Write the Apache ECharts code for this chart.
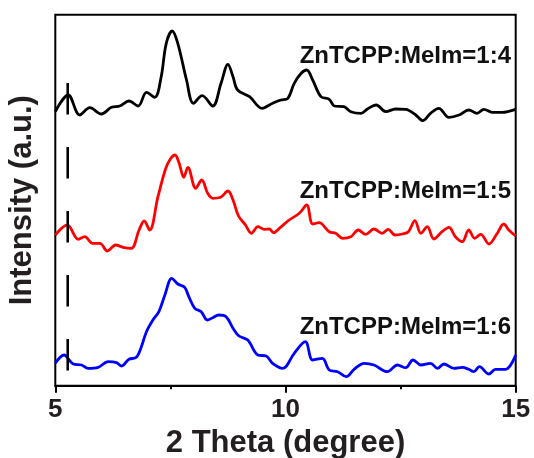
<!DOCTYPE html>
<html>
<head>
<meta charset="utf-8">
<script src="https://cdn.jsdelivr.net/npm/echarts@6/dist/echarts.min.js"></script>
<style>html,body{margin:0;padding:0;background:#fff}#c{width:534px;height:458px}</style>
</head>
<body>
<div id="c"></div>
<script>
// 2 Theta (degree) values and offset intensities (a.u.)
const blackX = [5.00,5.28,5.53,5.75,6.00,6.22,6.40,6.60,6.80,6.98,7.16,7.30,7.41,7.54,7.66,7.85,8.00,8.19,8.42,8.60,8.75,8.86,8.96,9.22,9.49,9.72,9.90,10.05,10.19,10.34,10.46,10.59,10.77,10.95,11.06,11.27,11.42,11.64,11.78,11.97,12.18,12.39,12.61,12.83,12.98,13.15,13.33,13.55,13.77,13.98,14.16,14.31,14.49,14.70,15.00];
const blackY = [274.0,290.7,270.7,278.0,271.7,278.4,279.7,284.7,279.7,293.4,288.4,309.0,342.4,354.7,342.4,305.7,282.4,290.0,279.7,302.4,321.4,309.0,295.7,289.0,277.4,282.4,285.7,287.4,302.4,312.4,315.7,305.7,289.0,286.4,279.7,279.0,274.0,272.4,276.7,280.7,274.0,276.7,276.4,270.7,265.0,272.4,277.4,268.4,270.7,275.7,272.4,276.4,273.4,273.4,276.4];

const redX = [5.00,5.26,5.50,5.64,5.81,5.97,6.13,6.31,6.47,6.65,6.82,6.93,7.05,7.23,7.40,7.51,7.60,7.69,7.79,7.88,8.05,8.18,8.31,8.42,8.59,8.75,8.86,8.98,9.13,9.26,9.40,9.54,9.65,9.74,9.89,10.08,10.30,10.46,10.59,10.73,10.95,11.09,11.24,11.42,11.58,11.74,11.92,12.10,12.23,12.38,12.54,12.67,12.81,12.94,13.08,13.22,13.40,13.55,13.69,13.84,13.98,14.11,14.24,14.42,14.59,14.74,14.85,15.00];
const redY = [150.7,160.7,146.4,149.0,142.4,142.4,134.7,140.7,138.4,137.4,155.7,164.7,155.7,189.0,217.4,227.4,230.7,222.4,208.4,218.4,197.4,205.7,192.4,187.4,188.4,194.7,185.7,169.7,160.7,152.4,159.0,156.4,156.7,153.0,158.4,165.7,172.4,180.7,161.7,163.0,154.0,152.4,147.4,149.0,155.7,151.4,156.7,152.4,156.4,150.7,151.7,154.0,165.0,152.4,159.0,146.7,154.0,158.4,149.0,144.0,155.7,147.4,151.4,141.7,151.7,161.7,155.7,149.7];

const blueX = [5.00,5.19,5.39,5.57,5.71,5.93,6.15,6.33,6.44,6.60,6.76,6.87,6.98,7.12,7.25,7.38,7.53,7.66,7.81,7.90,8.03,8.17,8.30,8.42,8.55,8.71,8.86,8.99,9.18,9.40,9.58,9.72,9.94,10.19,10.43,10.59,10.80,10.95,11.13,11.32,11.49,11.71,11.92,12.21,12.43,12.61,12.77,12.94,13.15,13.30,13.44,13.66,13.84,13.98,14.09,14.21,14.42,14.56,14.78,15.00];
const blueY = [22.4,30.7,21.7,20.7,17.4,18.4,24.0,23.0,19.7,26.4,28.4,39.0,54.0,65.7,74.0,90.7,107.4,101.7,98.4,89.0,77.4,74.0,65.7,68.0,70.7,69.0,57.4,49.7,45.7,30.7,29.7,22.4,17.4,32.4,44.0,25.7,27.4,15.7,14.0,9.0,16.4,22.4,20.7,14.0,20.7,18.0,25.7,20.7,22.4,17.4,21.7,17.4,18.4,16.4,14.0,19.0,11.7,16.4,16.4,30.7];

const markerX = [5.27, 5.27];
const markerY = [302.7, 14.7];

const xTicks = [5, 10, 15];
const sampleLabels = ['ZnTCPP:MeIm=1:4', 'ZnTCPP:MeIm=1:5', 'ZnTCPP:MeIm=1:6'];

const zip = (xs, ys) => xs.map((x, i) => [x, ys[i]]);

const chart = echarts.init(document.getElementById('c'));
const FONT = '"Liberation Sans", Arial, sans-serif';
const TXT = '#231f20';

function curve(name, xs, ys, color) {
  return {
    name, type: 'line', data: zip(xs, ys), showSymbol: false, smooth: 0.35,
    lineStyle: { color, width: 2.8 }, silent: true, z: 3
  };
}

chart.setOption({
  animation: false,
  backgroundColor: '#fff',
  grid: { left: 55.3, right: 18.3, top: 14.7, bottom: 72.3, containLabel: false, outerBoundsMode: 'none',
    show: true, borderColor: '#000', borderWidth: 2, backgroundColor: 'transparent' },
  xAxis: {
    type: 'value', min: 5, max: 15, interval: 5,
    axisLine: { show: true, lineStyle: { color: '#000', width: 2 } },
    axisTick: { show: true, length: 7, inside: false, lineStyle: { color: '#000', width: 2 } },
    minorTick: { show: true, splitNumber: 2, length: 3.5, lineStyle: { color: '#000', width: 2 } },
    splitLine: { show: false },
    axisLabel: { color: TXT, fontSize: 26, fontWeight: 'bold', fontFamily: FONT, margin: 11,
      formatter: v => xTicks.includes(v) ? String(v) : '' },
    name: '2 Theta (degree)', nameLocation: 'middle', nameGap: 40,
    nameTextStyle: { color: TXT, fontSize: 31, fontWeight: 'bold', fontFamily: FONT }
  },
  yAxis: {
    type: 'value', min: 0, max: 371,
    axisLine: { show: false }, axisTick: { show: false }, axisLabel: { show: false }, splitLine: { show: false },
    name: 'Intensity (a.u.)', nameLocation: 'middle', nameGap: 17,
    nameTextStyle: { color: TXT, fontSize: 31, fontWeight: 'bold', fontFamily: FONT }
  },
  series: [
    curve('1:4', blackX, blackY, '#000000'),
    curve('1:5', redX, redY, '#ff0000'),
    curve('1:6', blueX, blueY, '#0000ff'),
    {
      name: 'marker', type: 'line', data: zip(markerX, markerY), showSymbol: false, silent: true, z: 4,
      lineStyle: { color: '#000', width: 2.6, type: [31.5, 32.5] }
    }
  ],
  graphic: [
    { type: 'text', x: 511, y: 56, style: { text: sampleLabels[0], align: 'right', verticalAlign: 'middle', fill: '#111', font: 'bold 24px ' + FONT } },
    { type: 'text', x: 511, y: 191, style: { text: sampleLabels[1], align: 'right', verticalAlign: 'middle', fill: '#111', font: 'bold 24px ' + FONT } },
    { type: 'text', x: 511, y: 327.5, style: { text: sampleLabels[2], align: 'right', verticalAlign: 'middle', fill: '#111', font: 'bold 24px ' + FONT } }
  ]
});
</script>
</body>
</html>
